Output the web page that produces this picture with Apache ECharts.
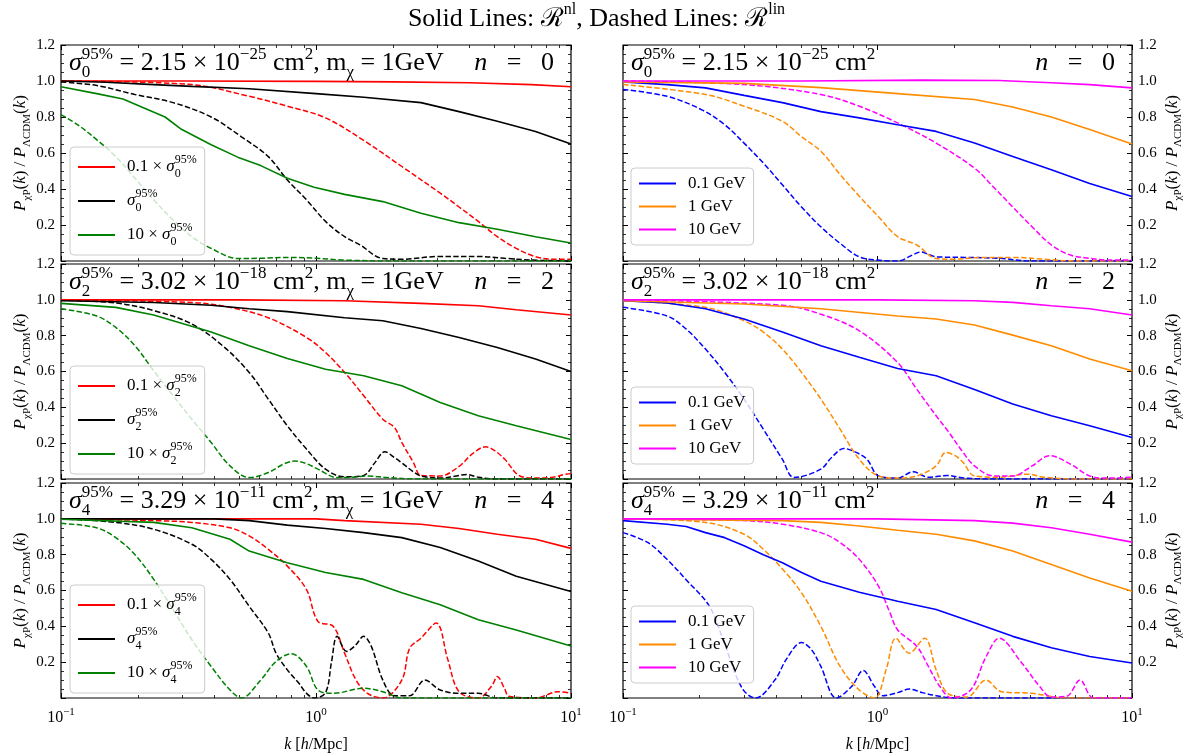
<!DOCTYPE html>
<html><head><meta charset="utf-8">
<script src="https://cdn.jsdelivr.net/npm/echarts@6/dist/echarts.min.js"></script>
<style>html,body{margin:0;padding:0;background:#fff}#c{width:1193px;height:755px}</style>
</head><body><div id="c"></div>
<script>
// ---------- tick values ----------
const kMajorTicks = [0.1, 1, 10];
const kMinorTicks = [0.2,0.3,0.4,0.5,0.6,0.7,0.8,0.9,2,3,4,5,6,7,8,9];
const nValues = [0, 2, 4];
const sigmaMant = ['2.15', '3.02', '3.29'];
const sigmaExp = ['−25', '−18', '−11'];

// ---------- n = 0, left (fixed m = 1 GeV) ----------
const n0_red_nl = [[0.1,1.0],[0.3,1.0],[1,0.998],[2,0.995],[4,0.99],[7,0.98],[10,0.968]];
const n0_black_nl = [[0.1,1.0],[0.15,0.993],[0.231,0.98],[0.326,0.97],[0.547,0.957],[1.0,0.93],[1.54,0.91],[2.58,0.88],[3.64,0.83],[5.14,0.776],[7.26,0.72],[10,0.65]];
const n0_green_nl = [[0.1,0.968],[0.138,0.93],[0.175,0.90],[0.216,0.845],[0.256,0.80],[0.294,0.735],[0.388,0.646],[0.493,0.577],[0.607,0.53],[0.772,0.46],[0.983,0.41],[1.295,0.37],[1.828,0.33],[2.58,0.265],[3.64,0.213],[5.14,0.176],[7.26,0.135],[10,0.10]];
const n0_red_lin = [[0.1,1.0],[0.326,0.98],[0.547,0.915],[0.772,0.86],[1.09,0.795],[1.538,0.67],[2.17,0.525],[3.07,0.377],[3.64,0.30],[4.33,0.22],[5.14,0.135],[6.1,0.07],[7.26,0.024],[8.5,0.01],[10,0.01]];
const n0_black_lin = [[0.1,0.995],[0.138,0.975],[0.195,0.925],[0.275,0.88],[0.388,0.80],[0.51,0.69],[0.65,0.58],[0.772,0.45],[0.918,0.34],[1.09,0.22],[1.295,0.135],[1.486,0.09],[1.828,0.014],[2.2,0.01],[3.0,0.025],[4.3,0.025],[5.5,0.015],[7,0.005],[10,0.0]];
const n0_green_lin = [[0.1,0.813],[0.116,0.758],[0.138,0.674],[0.164,0.58],[0.195,0.46],[0.231,0.34],[0.275,0.228],[0.326,0.135],[0.388,0.07],[0.493,0.014],[0.6,0.015],[0.8,0.02],[1.0,0.015],[1.3,0.005],[2,0.0],[10,0.0]];

// ---------- n = 0, right (fixed sigma) ----------
const n0_blue_nl = [[0.1,0.995],[0.149,0.98],[0.211,0.962],[0.299,0.92],[0.423,0.88],[0.599,0.83],[0.848,0.795],[1.2,0.757],[1.70,0.72],[2.405,0.655],[3.4,0.58],[4.82,0.507],[6.82,0.43],[10,0.358]];
const n0_orange_nl = [[0.1,0.995],[0.299,0.987],[0.599,0.963],[1.2,0.93],[2.405,0.897],[3.4,0.856],[4.82,0.80],[6.82,0.73],[10,0.65]];
const n0_mag_nl = [[0.1,1.0],[0.5,1.0],[1.5,1.005],[3,1.003],[4.82,0.99],[6.82,0.98],[10,0.962]];
const n0_blue_lin = [[0.1,0.953],[0.149,0.915],[0.204,0.84],[0.251,0.757],[0.299,0.655],[0.356,0.544],[0.423,0.423],[0.503,0.30],[0.599,0.19],[0.713,0.098],[0.848,0.023],[1.0,0.005],[1.2,0.0],[1.38,0.035],[1.48,0.05],[1.6,0.035],[1.7,0.023],[2.2,0.02],[3.0,0.015],[4,0.0],[10,0.0]];
const n0_orange_lin = [[0.1,0.98],[0.211,0.925],[0.299,0.86],[0.423,0.776],[0.503,0.69],[0.599,0.61],[0.713,0.48],[0.848,0.36],[1.009,0.246],[1.2,0.135],[1.428,0.089],[1.70,0.014],[2.0,0.01],[2.6,0.02],[3.4,0.02],[4.5,0.01],[6,0.0],[10,0.0]];
const n0_mag_lin = [[0.1,1.0],[0.299,0.98],[0.599,0.925],[0.848,0.86],[1.2,0.767],[1.70,0.655],[2.405,0.516],[2.86,0.41],[3.4,0.30],[4.05,0.19],[4.82,0.089],[5.73,0.033],[6.82,0.015],[8,0.005],[10,0.005]];

// ---------- n = 2, left ----------
const n2_red_nl = [[0.1,1.0],[0.5,1.0],[1.295,0.995],[2.58,0.98],[4.33,0.967],[6.1,0.945],[10,0.915]];
const n2_black_nl = [[0.1,0.995],[0.231,0.985],[0.388,0.97],[0.547,0.95],[0.772,0.934],[1.295,0.90],[1.828,0.883],[2.58,0.84],[3.64,0.79],[5.14,0.734],[7.26,0.67],[10,0.60]];
const n2_green_nl = [[0.1,0.98],[0.164,0.958],[0.231,0.915],[0.275,0.883],[0.388,0.82],[0.547,0.744],[0.772,0.673],[1.09,0.613],[1.538,0.576],[2.17,0.52],[3.07,0.427],[4.33,0.353],[6.1,0.297],[10,0.22]];
const n2_red_lin = [[0.1,1.0],[0.326,0.985],[0.46,0.958],[0.65,0.90],[0.918,0.79],[1.09,0.706],[1.295,0.595],[1.538,0.465],[1.828,0.334],[2.03,0.288],[2.17,0.204],[2.41,0.092],[2.58,0.02],[3.07,0.017],[3.64,0.07],[4.1,0.14],[4.63,0.18],[5.0,0.16],[5.5,0.11],[6.3,0.017],[7.26,0.005],[8.5,0.01],[9.55,0.027],[10,0.03]];
const n2_black_lin = [[0.1,1.0],[0.164,0.982],[0.231,0.94],[0.326,0.865],[0.43,0.744],[0.547,0.595],[0.65,0.446],[0.772,0.297],[0.918,0.167],[1.09,0.055],[1.295,0.012],[1.538,0.02],[1.7,0.09],[1.86,0.152],[2.03,0.12],[2.17,0.09],[2.41,0.04],[2.58,0.017],[3.07,0.005],[3.5,0.015],[3.9,0.025],[4.33,0.01],[5,0.0],[10,0.0]];
const n2_green_lin = [[0.1,0.95],[0.138,0.91],[0.164,0.846],[0.195,0.744],[0.231,0.604],[0.275,0.465],[0.326,0.334],[0.388,0.204],[0.46,0.073],[0.547,0.008],[0.65,0.036],[0.75,0.085],[0.828,0.10],[0.92,0.085],[1.017,0.055],[1.21,0.008],[1.4,0.01],[1.6,0.017],[1.9,0.008],[2.5,0.0],[10,0.0]];

// ---------- n = 2, right ----------
const n2_blue_nl = [[0.1,0.995],[0.149,0.982],[0.211,0.95],[0.299,0.893],[0.423,0.82],[0.599,0.744],[0.848,0.68],[1.2,0.617],[1.70,0.576],[2.405,0.50],[3.4,0.418],[4.82,0.353],[6.82,0.297],[10,0.232]];
const n2_orange_nl = [[0.1,0.995],[0.299,0.977],[0.599,0.95],[1.2,0.91],[1.70,0.893],[2.405,0.86],[3.4,0.803],[4.82,0.744],[6.82,0.67],[10,0.604]];
const n2_mag_nl = [[0.1,1.0],[1,1.0],[2.4,0.995],[3.4,0.986],[4.82,0.967],[6.82,0.95],[10,0.915]];
const n2_blue_lin = [[0.1,0.958],[0.149,0.91],[0.177,0.837],[0.211,0.725],[0.251,0.595],[0.299,0.446],[0.356,0.278],[0.423,0.11],[0.47,0.008],[0.599,0.055],[0.66,0.12],[0.738,0.17],[0.82,0.15],[0.909,0.11],[1.009,0.017],[1.2,0.005],[1.379,0.04],[1.585,0.01],[1.886,0.02],[2.2,0.005],[3,0.0],[10,0.0]];
const n2_orange_lin = [[0.1,0.995],[0.211,0.958],[0.299,0.883],[0.356,0.82],[0.423,0.725],[0.503,0.595],[0.599,0.446],[0.713,0.278],[0.848,0.11],[1.009,0.017],[1.2,0.005],[1.428,0.017],[1.70,0.073],[1.853,0.148],[2.02,0.13],[2.17,0.092],[2.405,0.017],[3,0.01],[3.91,0.027],[4.5,0.01],[6,0.0],[10,0.0]];
const n2_mag_lin = [[0.1,1.0],[0.423,0.97],[0.599,0.92],[0.848,0.827],[1.2,0.65],[1.428,0.50],[1.70,0.353],[1.886,0.27],[2.17,0.148],[2.405,0.073],[2.86,0.017],[3.4,0.017],[4.05,0.073],[4.74,0.13],[5.73,0.083],[6.82,0.017],[8,0.005],[10,0.01]];

// ---------- n = 4, left ----------
const n4_red_nl = [[0.1,1.0],[1,1.0],[1.295,0.99],[2.58,0.97],[3.64,0.946],[5.14,0.914],[7.26,0.886],[10,0.835]];
const n4_black_nl = [[0.1,1.0],[0.4,1.0],[0.547,0.99],[0.772,0.965],[1.09,0.946],[1.538,0.923],[2.17,0.895],[3.07,0.84],[4.33,0.765],[6.1,0.68],[10,0.595]];
const n4_green_nl = [[0.1,0.998],[0.231,0.98],[0.326,0.95],[0.46,0.886],[0.547,0.82],[0.772,0.755],[1.09,0.70],[1.538,0.662],[2.17,0.587],[3.07,0.52],[4.33,0.437],[6.1,0.38],[10,0.29]];
const n4_red_lin = [[0.1,1.0],[0.231,0.99],[0.326,0.98],[0.46,0.95],[0.547,0.905],[0.65,0.83],[0.772,0.736],[0.918,0.605],[1.017,0.428],[1.168,0.40],[1.295,0.25],[1.436,0.10],[1.592,0.026],[1.828,0.0],[2.17,0.10],[2.33,0.278],[2.58,0.334],[2.96,0.418],[3.29,0.213],[3.64,0.035],[4.33,0.0],[4.9,0.07],[5.14,0.12],[5.5,0.05],[5.7,0.01],[7.26,0.0],[8.9,0.035],[10,0.026]];
const n4_black_lin = [[0.1,1.0],[0.164,0.98],[0.231,0.942],[0.326,0.858],[0.388,0.774],[0.46,0.662],[0.547,0.512],[0.65,0.363],[0.697,0.25],[0.772,0.157],[0.857,0.082],[0.918,0.026],[0.983,0.0],[1.09,0.03],[1.15,0.2],[1.21,0.344],[1.318,0.26],[1.42,0.29],[1.538,0.344],[1.648,0.288],[1.828,0.10],[2.03,0.013],[2.33,0.013],[2.67,0.10],[3.07,0.045],[3.64,0.026],[4.33,0.026],[5.14,0.0],[10,0.0]];
const n4_green_lin = [[0.1,0.975],[0.138,0.95],[0.164,0.895],[0.195,0.80],[0.231,0.662],[0.275,0.494],[0.326,0.325],[0.388,0.176],[0.46,0.045],[0.51,0.0],[0.607,0.10],[0.697,0.204],[0.80,0.247],[0.918,0.176],[1.017,0.045],[1.168,0.026],[1.538,0.054],[1.828,0.035],[2.17,0.0],[10,0.0]];

// ---------- n = 4, right ----------
const n4_blue_nl = [[0.1,0.99],[0.149,0.97],[0.177,0.957],[0.211,0.923],[0.251,0.895],[0.299,0.85],[0.356,0.80],[0.423,0.755],[0.503,0.70],[0.599,0.652],[0.848,0.59],[1.2,0.54],[1.70,0.494],[2.405,0.42],[3.4,0.344],[4.82,0.28],[6.82,0.232],[10,0.195]];
const n4_orange_nl = [[0.1,1.0],[0.423,0.99],[0.599,0.98],[0.848,0.96],[1.2,0.936],[1.70,0.914],[2.405,0.877],[3.4,0.82],[4.82,0.745],[6.82,0.67],[10,0.596]];
const n4_mag_nl = [[0.1,1.0],[1,1.0],[2.405,0.99],[3.4,0.976],[4.82,0.95],[6.82,0.914],[10,0.87]];
const n4_blue_lin = [[0.1,0.923],[0.125,0.868],[0.149,0.774],[0.177,0.66],[0.219,0.51],[0.251,0.30],[0.294,0.054],[0.332,0.0],[0.395,0.10],[0.44,0.22],[0.503,0.31],[0.55,0.27],[0.599,0.176],[0.689,0.0],[0.791,0.064],[0.878,0.153],[0.974,0.064],[1.045,0.013],[1.2,0.03],[1.332,0.05],[1.5,0.03],[1.70,0.013],[2.02,0.0],[10,0.0]];
const n4_orange_lin = [[0.1,1.0],[0.211,0.98],[0.299,0.914],[0.356,0.83],[0.423,0.72],[0.503,0.587],[0.599,0.40],[0.713,0.176],[0.848,0.045],[0.974,0.0],[1.081,0.157],[1.18,0.334],[1.332,0.25],[1.531,0.334],[1.70,0.157],[1.886,0.026],[2.244,0.005],[2.67,0.10],[3.07,0.035],[4.05,0.026],[5.5,0.0],[10,0.0]];
const n4_mag_lin = [[0.1,1.0],[0.299,0.99],[0.423,0.97],[0.599,0.923],[0.713,0.868],[0.848,0.774],[1.009,0.624],[1.12,0.475],[1.2,0.38],[1.428,0.288],[1.585,0.176],[1.758,0.064],[1.953,0.0],[2.323,0.045],[2.67,0.23],[3.01,0.334],[3.65,0.204],[4.34,0.064],[4.82,0.005],[5.54,0.01],[6.25,0.10],[7.07,0.0],[10,0.0]];

const leftSolid = [[n0_red_nl,n0_black_nl,n0_green_nl],[n2_red_nl,n2_black_nl,n2_green_nl],[n4_red_nl,n4_black_nl,n4_green_nl]];
const leftDashed = [[n0_red_lin,n0_black_lin,n0_green_lin],[n2_red_lin,n2_black_lin,n2_green_lin],[n4_red_lin,n4_black_lin,n4_green_lin]];
const rightSolid = [[n0_blue_nl,n0_orange_nl,n0_mag_nl],[n2_blue_nl,n2_orange_nl,n2_mag_nl],[n4_blue_nl,n4_orange_nl,n4_mag_nl]];
const rightDashed = [[n0_blue_lin,n0_orange_lin,n0_mag_lin],[n2_blue_lin,n2_orange_lin,n2_mag_lin],[n4_blue_lin,n4_orange_lin,n4_mag_lin]];
const leftColors = ['#ff0000','#000000','#008000'];
const rightColors = ['#0000ff','#ff8c00','#ff00ff'];
const massLabels = ['0.1 GeV','1 GeV','10 GeV'];
const factorLabels = ['0.1 × ','','10 × '];

// ---------- layout ----------
const colLeft = [61, 623], colWidth = [510, 509];
const rowTop = [45, 264, 483], rowHeight = [216, 215, 215];
const SERIF = 'Liberation Serif';

const mathRich = (fs, sfs) => ({
  t: {fontFamily: SERIF, fontSize: fs, fontWeight: 'normal', color: '#000', lineHeight: Math.round(fs*1.35)},
  i: {fontFamily: SERIF, fontSize: fs, fontWeight: 'normal', fontStyle: 'italic', color: '#000', lineHeight: Math.round(fs*1.35)},
  sp: {fontFamily: SERIF, fontSize: sfs, fontWeight: 'normal', color: '#000', lineHeight: sfs, verticalAlign: 'top'},
  sb: {fontFamily: SERIF, fontSize: sfs, fontWeight: 'normal', color: '#000', lineHeight: sfs, verticalAlign: 'bottom'},
  sb0: {fontFamily: SERIF, fontSize: sfs, fontWeight: 'normal', color: '#000', lineHeight: sfs, verticalAlign: 'bottom', width: 0},
  cal: {fontFamily: 'DejaVu Serif', fontSize: fs, fontWeight: 'normal', color: '#000', lineHeight: Math.round(fs*1.35)}
});

const grids = [], xAxes = [], yAxes = [], series = [], legends = [], titles = [];
const legendNames = {};

titles.push({
  text: '{t|Solid Lines: }{cal|ℛ}{sp|nl}{t|, Dashed Lines: }{cal|ℛ}{sp|lin}',
  left: 'center', top: 2, padding: 0,
  textStyle: {fontWeight: 'normal', rich: mathRich(26, 16)}
});

const yName = '{i|P}{sb|χP}{t|(}{i|k}{t|)}{t| / }{i|P}{sb|ΛCDM}{t|(}{i|k}{t|)}';
const log10 = v => Math.log10(v);
const EQ = ' \u2002=\u2002 ';

let gi = 0;
for (let r = 0; r < 3; r++) {
  for (let c = 0; c < 2; c++) {
    const left = colLeft[c], top = rowTop[r], w = colWidth[c], h = rowHeight[r];
    grids.push({left, top, width: w, height: h, show: true, borderColor: '#000', borderWidth: 1.2, backgroundColor: 'transparent'});
    // data axis (log) with the decade labels
    xAxes.push({
      gridIndex: gi, type: 'log', logBase: 10, min: 0.1, max: 10, position: 'bottom',
      axisLine: {show: false, onZero: false}, splitLine: {show: false}, axisTick: {show: false},
      axisLabel: {show: r === 2, customValues: kMajorTicks, margin: 9,
        formatter: v => '{t|10}{sp|' + String(Math.round(Math.log10(v))).replace('-', '−') + '}',
        rich: mathRich(16, 11)},
      name: r === 2 ? '{i|k}{t| [}{i|h}{t|/Mpc]}' : '', nameLocation: 'middle', nameGap: 36,
      nameTextStyle: {rich: mathRich(16, 11)}
    });
    // tick-only axes in log10(k) space (decade and sub-decade ticks, bottom and top)
    const tickAxis = (pos, vals, len, lw) => ({
      gridIndex: gi, type: 'value', min: -1, max: 1, position: pos,
      axisLine: {show: false, onZero: false}, splitLine: {show: false}, axisLabel: {show: false},
      axisTick: {show: true, inside: true, length: len, customValues: vals.map(log10), lineStyle: {color: '#000', width: lw}}
    });
    xAxes.push(tickAxis('top', kMajorTicks, 5, 1));
    xAxes.push(tickAxis('bottom', kMajorTicks, 5, 1));
    xAxes.push(tickAxis('bottom', kMinorTicks, 3, 0.8));
    xAxes.push(tickAxis('top', kMinorTicks, 3, 0.8));
    const yBase = {
      gridIndex: gi, type: 'value', min: 0, max: 1.2, interval: 0.2,
      axisLine: {show: false, onZero: false}, splitLine: {show: false},
      axisTick: {show: true, inside: true, length: 5, lineStyle: {color: '#000', width: 1}},
      minorTick: {show: true, splitNumber: 4, length: 3, lineStyle: {color: '#000', width: 0.8}},
      nameLocation: 'middle', nameRotate: 90,
      nameTextStyle: {rich: mathRich(17, 11)}
    };
    const yLab = show => ({show, margin: 6, fontFamily: SERIF, fontSize: 15, color: '#000',
      formatter: v => (Math.abs(v) < 1e-9 ? '' : v.toFixed(1))});
    yAxes.push(Object.assign({}, yBase, {position: 'left', nameGap: 26, axisLabel: yLab(c === 0), name: c === 0 ? yName : ''}));
    yAxes.push(Object.assign({}, yBase, {position: 'right', nameGap: 29, axisLabel: yLab(c === 1), name: c === 1 ? yName : ''}));

    const solids = c === 0 ? leftSolid[r] : rightSolid[r];
    const dashes = c === 0 ? leftDashed[r] : rightDashed[r];
    const colors = c === 0 ? leftColors : rightColors;
    const names = [];
    for (let s = 0; s < 3; s++) {
      const nm = c === 0 ? ('L' + r + s) : massLabels[s];
      names.push(nm);
      if (c === 0) legendNames[nm] = '{t|' + factorLabels[s] + '}{i|σ}{sb0|' + nValues[r] + '}{sp|95%}';
      else legendNames[nm] = '{t|' + massLabels[s] + '}';
      series.push({
        type: 'line', name: nm, xAxisIndex: gi*5, yAxisIndex: gi*2,
        data: solids[s], showSymbol: false, symbol: 'none', silent: true, clip: true,
        lineStyle: {color: colors[s], width: 1.6}, itemStyle: {color: colors[s]}, z: 3, emphasis: {disabled: true}
      });
      series.push({
        type: 'line', name: 'lin' + gi + s, xAxisIndex: gi*5, yAxisIndex: gi*2,
        data: dashes[s], showSymbol: false, symbol: 'none', silent: true, clip: true, smooth: 0.35,
        lineStyle: {color: colors[s], width: 1.5, type: [5.5, 2.4]}, itemStyle: {color: colors[s]}, z: 2, emphasis: {disabled: true}
      });
    }
    legends.push(c === 0 ? {
      left: left + 9, top: top + 102, orient: 'vertical', data: names, icon: 'rect',
      itemWidth: 37, itemHeight: 2, itemGap: 8, padding: [7, 8, 7, 8],
      borderColor: '#cccccc', borderWidth: 1, borderRadius: 4, backgroundColor: 'rgba(255,255,255,0.8)',
      selectedMode: false, formatter: n => legendNames[n],
      textStyle: {padding: [0, 0, 0, 7], rich: Object.assign(mathRich(16, 12), {
        t: {fontFamily: SERIF, fontSize: 17, color: '#000', lineHeight: 26},
        i: {fontFamily: SERIF, fontSize: 17, fontStyle: 'italic', color: '#000', lineHeight: 26}})}
    } : {
      left: left + 8, top: top + 123, orient: 'vertical', data: names, icon: 'rect',
      itemWidth: 37, itemHeight: 2, itemGap: 6, padding: [7, 8, 7, 8],
      borderColor: '#cccccc', borderWidth: 1, borderRadius: 4, backgroundColor: 'rgba(255,255,255,0.8)',
      selectedMode: false, formatter: n => legendNames[n],
      textStyle: {padding: [0, 0, 0, 7], rich: {t: {fontFamily: SERIF, fontSize: 17, color: '#000', lineHeight: 22}}}
    });
    // panel annotation texts
    const sigTxt = '{i|σ}{sb0|' + nValues[r] + '}{sp|95%}{t| = ' + sigmaMant[r] + ' × 10}{sp|' + sigmaExp[r] + '}{t| cm}{sp|2}' +
      (c === 0 ? '{t|, m}{sb|χ}{t| = 1GeV}' : '');
    titles.push({text: sigTxt, left: left + 8, top: top + 1, padding: 0, textStyle: {fontWeight: 'normal', rich: mathRich(26, 17)}});
    titles.push({text: '{i|n}{t|' + EQ + nValues[r] + '}', right: 1193 - (left + w) + 17, top: top + 1, padding: 0, textStyle: {fontWeight: 'normal', rich: mathRich(26, 17)}});
    gi++;
  }
}

const chart = echarts.init(document.getElementById('c'), null, {renderer: 'canvas'});
chart.setOption({
  animation: false,
  backgroundColor: '#ffffff',
  title: titles,
  grid: grids,
  xAxis: xAxes,
  yAxis: yAxes,
  legend: legends,
  series: series
});
</script>
</body></html>
